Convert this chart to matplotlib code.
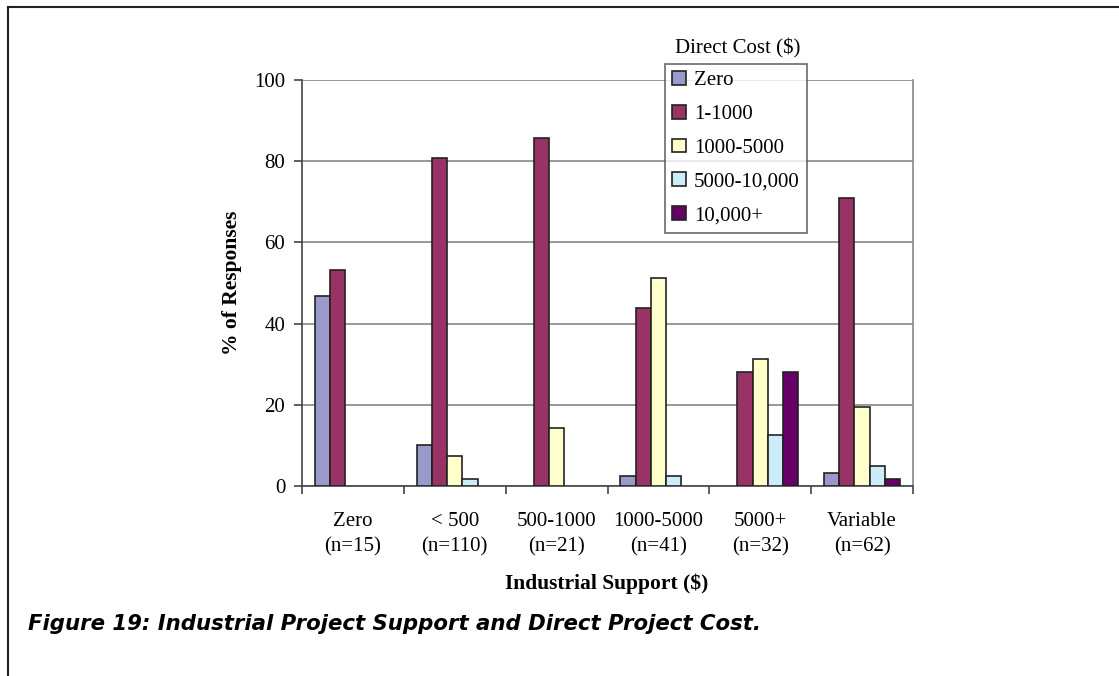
import matplotlib.pyplot as plt
import matplotlib.lines as mlines
import numpy as np

# data
groups = ["Zero\n(n=15)", "< 500\n(n=110)", "500-1000\n(n=21)",
          "1000-5000\n(n=41)", "5000+\n(n=32)", "Variable\n(n=62)"]
cost_labels = ["Zero", "1-1000", "1000-5000", "5000-10,000", "10,000+"]

zero_cost = [46.7, 10.0, 0.0, 2.4, 0.0, 3.2]
cost_1_1000 = [53.3, 80.9, 85.7, 43.9, 28.1, 71.0]
cost_1000_5000 = [0.0, 7.3, 14.3, 51.2, 31.3, 19.4]
cost_5000_10000 = [0.0, 1.8, 0.0, 2.4, 12.5, 4.8]
cost_10000_plus = [0.0, 0.0, 0.0, 0.0, 28.1, 1.6]

series = [zero_cost, cost_1_1000, cost_1000_5000, cost_5000_10000, cost_10000_plus]
colors = ["#9999CC", "#993366", "#FFFFCC", "#CCECF7", "#660066"]

serif = "Liberation Serif"

fig = plt.figure(figsize=(11.19, 6.76), dpi=100)
ax = fig.add_axes([0.2699, 0.2811, 0.5460, 0.6006])

x = np.arange(len(groups))
w = 0.15
handles = []
for i, (vals, c) in enumerate(zip(series, colors)):
    vals = np.array(vals)
    keep = vals > 0          # empty categories get no bar at all
    ax.bar(x[keep] + (i - 2) * w, vals[keep], width=w, color=c,
           edgecolor="#222222", linewidth=1.2, zorder=3)
    handles.append(plt.Rectangle((0, 0), 1, 1, facecolor=c,
                                 edgecolor="#222222", linewidth=1.2))

ax.set_xlim(-0.5, len(groups) - 0.5)
ax.set_ylim(0, 100)
ax.set_yticks([0, 20, 40, 60, 80, 100])
ax.set_yticklabels(["0", "20", "40", "60", "80", "100"],
                   fontfamily=serif, fontsize=15)

# category labels between boundary ticks
ax.set_xticks(np.arange(len(groups) + 1) - 0.5)
ax.set_xticklabels([])
ax.tick_params(axis="x", direction="out", length=6, width=1.2, color="#444444")
ax.tick_params(axis="y", direction="out", length=6, width=1.2, color="#444444", pad=6)
for xi, lab in zip(x, groups):
    ax.text(xi, -6.3, lab, ha="center", va="top", fontfamily=serif,
            fontsize=15, linespacing=1.5, transform=ax.transData)

ax.grid(axis="y", color="#888888", linewidth=1.2, zorder=0)
ax.set_axisbelow(True)
ax.spines["top"].set_visible(False)
ax.spines["left"].set_color("#444444")
ax.spines["bottom"].set_color("#444444")
ax.spines["right"].set_color("#888888")
for s in ["left", "bottom", "right"]:
    ax.spines[s].set_linewidth(1.2)

ax.set_ylabel("% of Responses", fontfamily=serif, fontsize=15.5,
              fontweight="bold", labelpad=9)
fig.text(0.5425, 0.137, "Industrial Support ($)", ha="center", va="center",
         fontfamily=serif, fontsize=15.5, fontweight="bold")

leg = fig.legend(handles, cost_labels, loc="upper left",
                 bbox_to_anchor=(0.594, 0.906), frameon=True, fancybox=False,
                 prop={"family": serif, "size": 15}, handlelength=0.65,
                 handleheight=0.65, handletextpad=0.4, labelspacing=0.7,
                 borderpad=0.35, borderaxespad=0)
leg.get_frame().set_edgecolor("#444444")
leg.get_frame().set_linewidth(1.2)
fig.text(0.6595, 0.929, "Direct Cost ($)", ha="center", va="center",
         fontfamily=serif, fontsize=15)

fig.text(0.025, 0.077, "Figure 19: Industrial Project Support and Direct Project Cost.",
         ha="left", va="center", fontfamily="DejaVu Sans", fontsize=15.3,
         fontweight="bold", fontstyle="italic")

# page frame lines
fig.add_artist(mlines.Line2D([0.0072, 0.0072], [0, 0.989], color="#222222", linewidth=1.5))
fig.add_artist(mlines.Line2D([0.0072, 1.0], [0.989, 0.989], color="#222222", linewidth=1.5))

fig.savefig("out.png", dpi=100)
